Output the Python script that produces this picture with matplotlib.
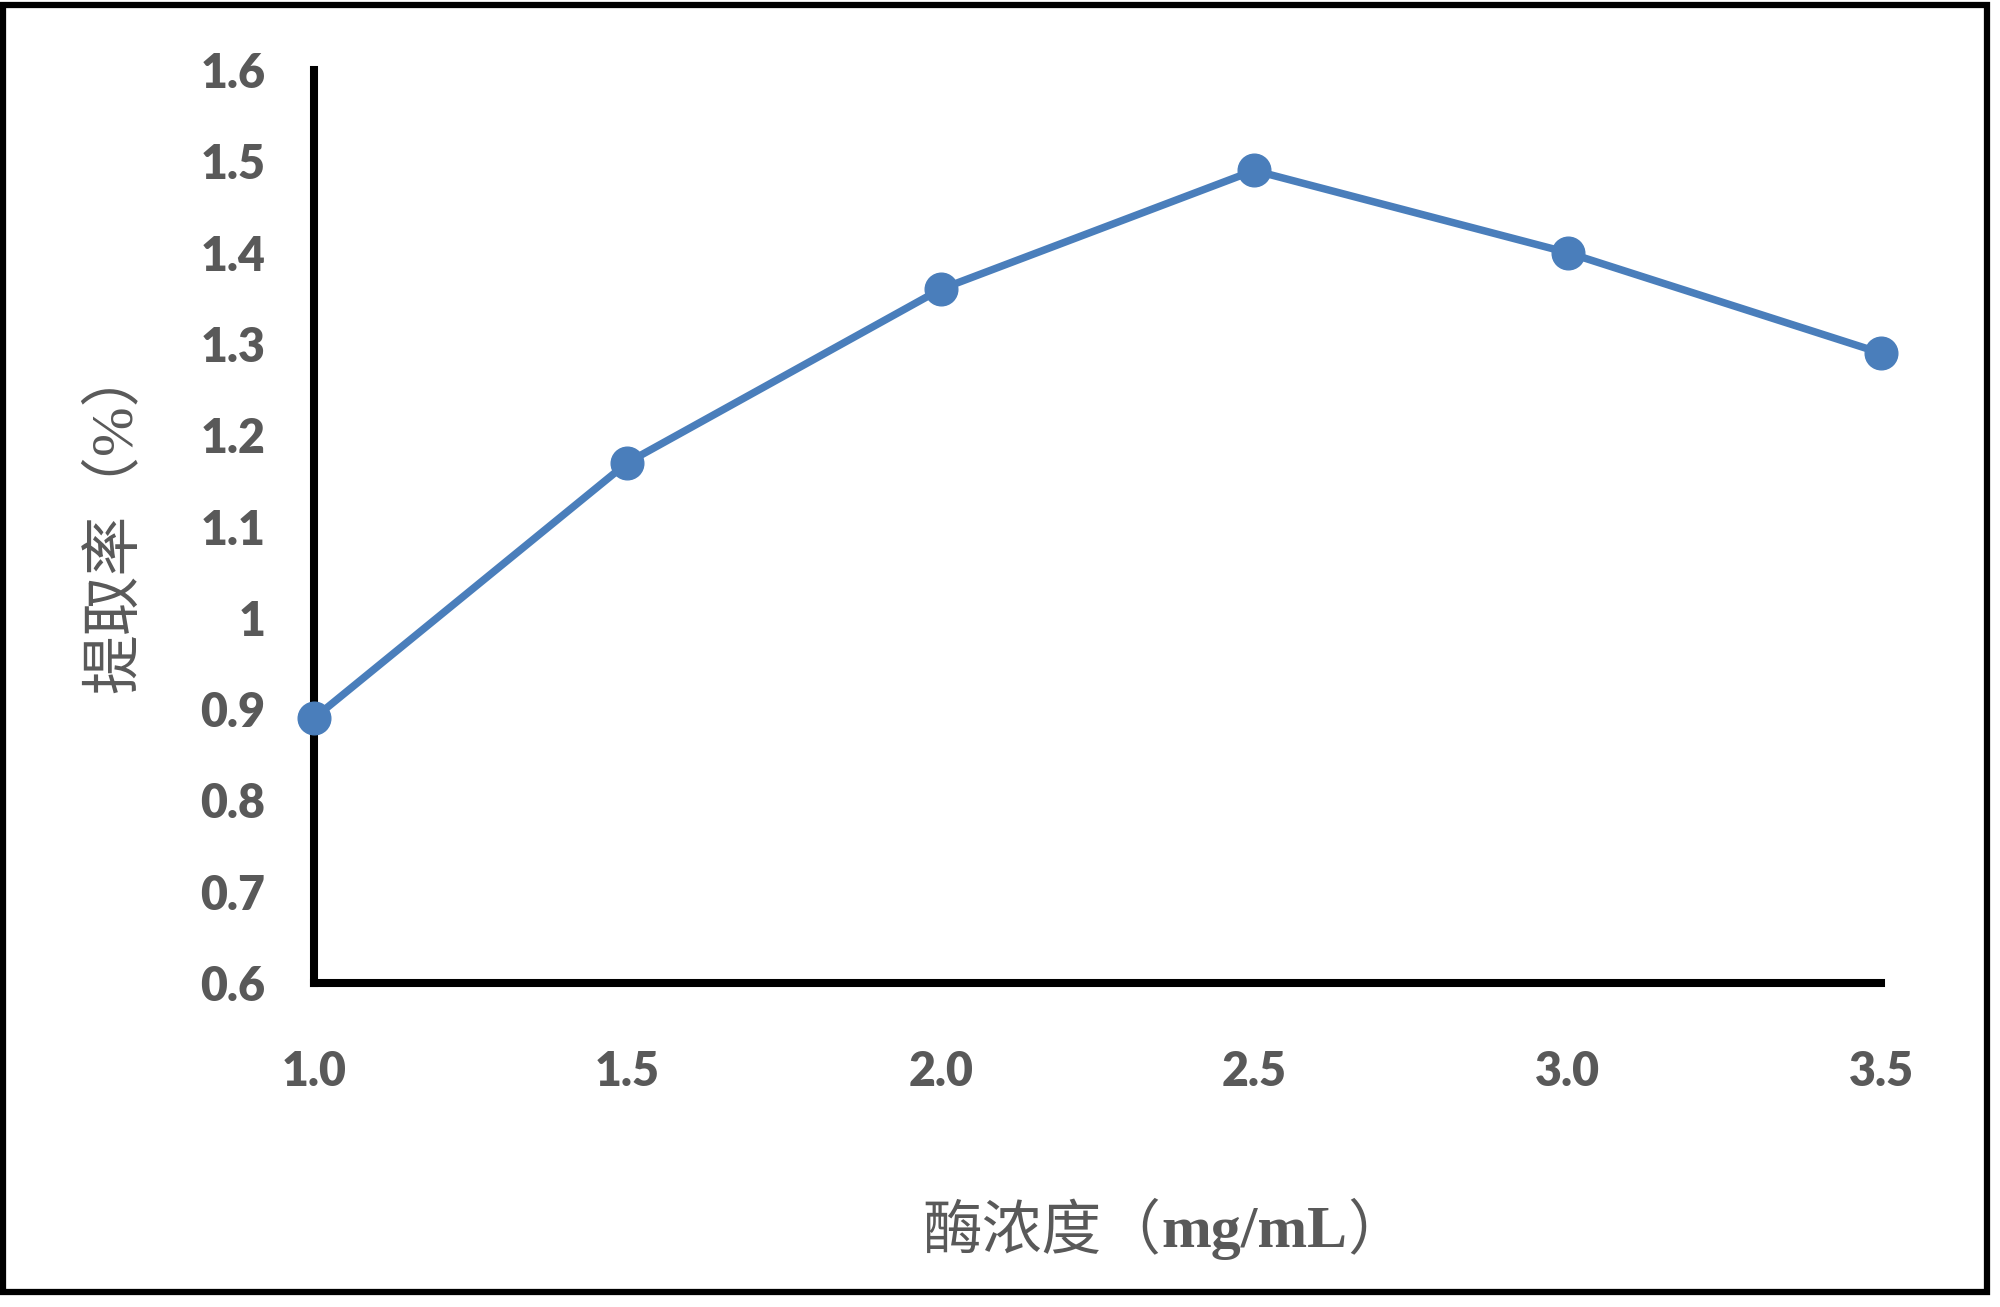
import matplotlib
matplotlib.use("Agg")
from matplotlib import pyplot as plt
from matplotlib.patches import Rectangle

# enzyme concentration (mg/mL) vs extraction rate (%)
conc = [1.0, 1.5, 2.0, 2.5, 3.0, 3.5]
rate = [0.89, 1.17, 1.36, 1.49, 1.40, 1.29]
xticks = [1.0, 1.5, 2.0, 2.5, 3.0, 3.5]
xticklabels = ["1.0", "1.5", "2.0", "2.5", "3.0", "3.5"]
yticks = [0.6, 0.7, 0.8, 0.9, 1.0, 1.1, 1.2, 1.3, 1.4, 1.5, 1.6]
yticklabels = ["0.6", "0.7", "0.8", "0.9", "1", "1.1", "1.2", "1.3", "1.4", "1.5", "1.6"]

gray = "#595959"
blue = "#4a7ebb"
cjk = ["Liberation Serif", "Noto Sans CJK SC"]

fig = plt.figure(figsize=(20, 13.07), dpi=100)
ax = fig.add_axes([0.157, 0.2479, 0.7835, 0.6985])

ax.plot(conc, rate, color=blue, linewidth=5.4, marker="o", markersize=23.5,
        clip_on=False, zorder=5)

ax.set_xlim(1.0, 3.5)
ax.set_ylim(0.6, 1.6)
ax.set_xticks(xticks)
ax.set_xticklabels(xticklabels)
ax.set_yticks(yticks)
ax.set_yticklabels(yticklabels)

for s in ["top", "right"]:
    ax.spines[s].set_visible(False)
for s in ["left", "bottom"]:
    ax.spines[s].set_linewidth(5.8)
    ax.spines[s].set_color("black")
    ax.spines[s].set_capstyle("projecting")

ax.tick_params(axis="x", length=0, pad=48)
ax.tick_params(axis="y", length=0, pad=35)
for lab in ax.get_xticklabels() + ax.get_yticklabels():
    lab.set_fontfamily("Lato")
    lab.set_fontweight("heavy")
    lab.set_fontsize(33.5)
    lab.set_color(gray)

# y label
fig.text(0.0575, 0.603, "提取率（%）", rotation=90, ha="center", va="center",
         family=cjk, fontsize=43, color=gray)

# x label, built from pieces so "mg/mL" can be bold serif
pieces = [("酶浓度（", dict(family=cjk, fontweight="normal")),
          ("mg/mL", dict(family="Liberation Serif", fontweight="bold")),
          ("）", dict(family=cjk, fontweight="normal"))]
fig.canvas.draw()
r = fig.canvas.get_renderer()
texts = []
for s, kw in pieces:
    t = fig.text(0, 0.057, s, ha="left", va="center", fontsize=43, color=gray, **kw)
    texts.append(t)
widths = [t.get_window_extent(r).width / fig.bbox.width for t in texts]
x = 0.5825 - sum(widths) / 2
for t, w in zip(texts, widths):
    t.set_x(x)
    x += w

# outer frame
fig.patches.append(Rectangle((0.0015, 0.0115), 0.992, 0.9845, transform=fig.transFigure,
                             fill=False, edgecolor="black", linewidth=4.5))

fig.savefig("out.png", dpi=100, facecolor="white")
